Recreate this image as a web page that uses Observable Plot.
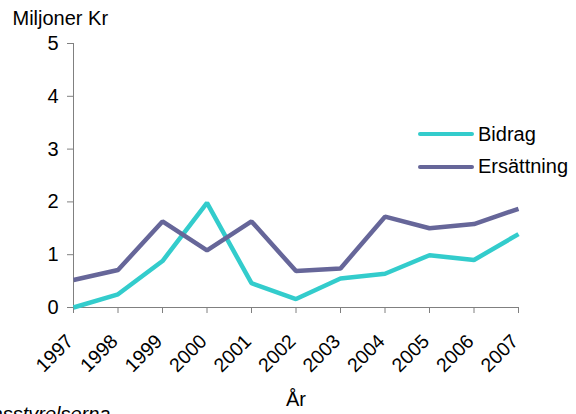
<!DOCTYPE html>
<html>
<head>
<meta charset="utf-8">
<script src="https://cdn.jsdelivr.net/npm/d3@7"></script>
<script src="https://cdn.jsdelivr.net/npm/@observablehq/plot@0.6"></script>
<style>
  html, body { margin: 0; padding: 0; background: white; }
  #wrap { position: relative; width: 576px; height: 414px; overflow: hidden; font-family: "Liberation Sans", Arial, sans-serif; }
  #legend { position: absolute; left: 418px; top: 122px; }
  .row { display: flex; align-items: center; height: 24px; margin-bottom: 8.7px; font-size: 20px; color: black; }
  .swatch { width: 56px; height: 4px; border-radius: 2px; margin-right: 4px; }
</style>
</head>
<body>
<div id="wrap"></div>
<script>
const years = [1997, 1998, 1999, 2000, 2001, 2002, 2003, 2004, 2005, 2006, 2007];
const bidrag = [0, 0.25, 0.88, 1.98, 0.46, 0.16, 0.55, 0.64, 0.99, 0.90, 1.39];
const ersattning = [0.52, 0.71, 1.63, 1.08, 1.63, 0.69, 0.74, 1.72, 1.50, 1.58, 1.87];
const seriesNames = ["Bidrag", "Ersättning"];
const seriesColors = ["#33CCCC", "#666699"];
const yTicks = [0, 1, 2, 3, 4, 5];
const yTitle = "Miljoner Kr";
const xTitle = "År";
const caption = "Källa: Länsstyrelserna";

const rows = [];
years.forEach((yr, i) => {
  rows.push({year: yr, value: bidrag[i], series: seriesNames[0]});
  rows.push({year: yr, value: ersattning[i], series: seriesNames[1]});
});

const chart = Plot.plot({
  width: 576,
  height: 414,
  marginLeft: 73,
  marginRight: 58,
  marginTop: 43,
  marginBottom: 107,
  style: {fontFamily: "'Liberation Sans', Arial, sans-serif", fontSize: "20px", color: "black", background: "white"},
  x: {domain: [1997, 2007]},
  y: {domain: [0, 5]},
  color: {domain: seriesNames, range: seriesColors},
  marks: [
    Plot.axisY({ticks: yTicks, tickSize: 6, tickPadding: 9, tickFormat: d => String(d), label: null, stroke: "#808080", fill: "black", fontSize: 20}),
    Plot.axisX({ticks: years, tickSize: 6, tickFormat: () => "", label: null, stroke: "#808080"}),
    Plot.ruleX([1997], {stroke: "#808080"}),
    Plot.ruleY([0], {stroke: "#808080"}),
    Plot.text(years, {x: d => d, frameAnchor: "bottom", text: d => String(d), rotate: -45, textAnchor: "end", lineAnchor: "bottom", dx: 1, dy: 35, fontSize: 19.5}),
    Plot.line(rows, {x: "year", y: "value", z: "series", stroke: "series", strokeWidth: 4.5, strokeLinejoin: "miter", strokeLinecap: "butt"}),
    Plot.text([yTitle], {frameAnchor: "top-left", text: d => d, dx: -61, dy: -19, textAnchor: "start", lineAnchor: "bottom", fontSize: 20}),
    Plot.text([xTitle], {frameAnchor: "bottom", text: d => d, dy: 98, lineAnchor: "bottom", fontSize: 20}),
    Plot.text([caption], {frameAnchor: "bottom-left", text: d => d, dx: 37, dy: 113, textAnchor: "end", lineAnchor: "bottom", fontStyle: "italic", fontSize: 20})
  ]
});

const wrap = document.getElementById("wrap");
wrap.appendChild(chart);
const legend = document.createElement("div");
legend.id = "legend";
seriesNames.forEach((name, i) => {
  const row = document.createElement("div");
  row.className = "row";
  const sw = document.createElement("div");
  sw.className = "swatch";
  sw.style.background = seriesColors[i];
  const label = document.createElement("span");
  label.textContent = name;
  row.appendChild(sw);
  row.appendChild(label);
  legend.appendChild(row);
});
wrap.appendChild(legend);
</script>
</body>
</html>
